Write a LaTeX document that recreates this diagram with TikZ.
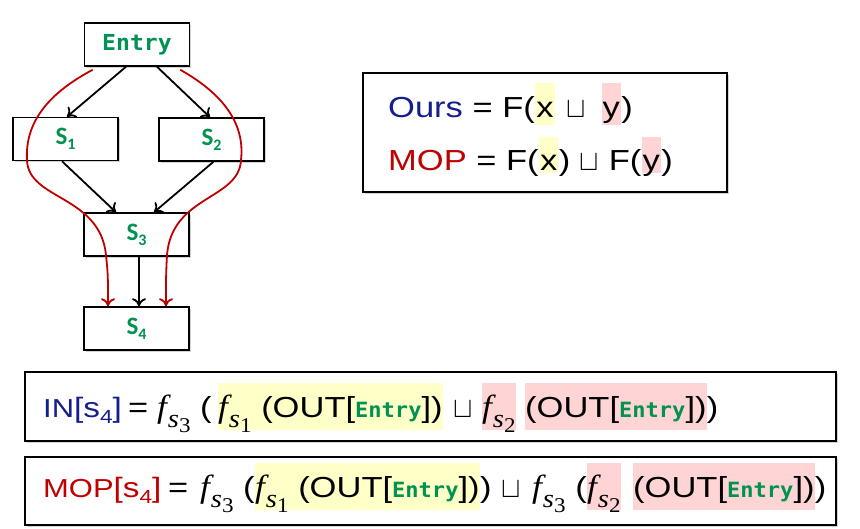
\RequirePackage{fix-cm}
\documentclass[tikz,border=0pt]{standalone}
\usepackage{amssymb}
\usepackage{fontspec}
\setmainfont{Liberation Sans}[FakeStretch=1.19]
\newfontfamily\monofont{DejaVu Sans Mono}[FakeStretch=1.05]
\newfontfamily\calfont{Carlito}
\newfontfamily\cambria{Liberation Serif}[FakeStretch=1.1]
\usetikzlibrary{arrows.meta,shadows}

\definecolor{oursblue}{RGB}{20,30,140}
\definecolor{mopred}{RGB}{192,0,0}
\definecolor{entrygreen}{RGB}{0,146,80}
\definecolor{hlyellow}{RGB}{255,255,200}
\definecolor{hlpink}{RGB}{255,212,212}

\newcommand{\ent}[1][21]{{\monofont\bfseries\fontsize{#1}{#1}\selectfont\color{entrygreen}Entry}}
\newcommand{\sname}[1]{{\calfont\bfseries\fontsize{25}{25}\selectfont\color{entrygreen}S\raisebox{-5pt}{\fontsize{16}{16}\selectfont #1}}}
\newcommand{\sfour}{{\fontsize{28}{34}\selectfont[s\raisebox{-6pt}{\fontsize{19}{19}\selectfont 4}]}}
\newcommand{\fsub}[1]{{\cambria\fontsize{32}{32}\selectfont\itshape f\kern1pt\raisebox{-10pt}{\fontsize{26}{26}\selectfont s\raisebox{-5pt}{\upshape\fontsize{21}{21}\selectfont #1}}}}

\begin{document}
\begin{tikzpicture}[x=1pt,y=-1pt,>={To[length=8pt,width=14pt]}]
\tikzset{
  shd/.style={fill=white,drop shadow={shadow xshift=1.5pt,shadow yshift=-1.5pt,opacity=0.35}},
  blk/.style={draw,shd,line width=1.5pt,minimum width=105pt,minimum height=43pt,inner sep=0pt},
  frame/.style={draw,shd,line width=2pt,inner sep=0pt},
  txt/.style={inner sep=0pt,anchor=base west,font=\fontsize{29}{34}\selectfont},
  lhs/.style={txt,font=\fontsize{26}{34}\selectfont},
  hly/.style={txt,fill=hlyellow,text height=34pt,text depth=13pt},
  hlp/.style={txt,fill=hlpink,text height=34pt,text depth=13pt},
  flow/.style={->,line width=1.8pt},
  mopflow/.style={->,line width=1.8pt,mopred}
}
\useasboundingbox (0,0) rectangle (860,528);

% control flow graph
\node[blk] (entry) at (137,44.5) {\ent[22]};
\node[blk] (s1) at (65.5,139) {\sname{1}};
\node[blk] (s2) at (211.5,139.5) {\sname{2}};
\node[blk] (s3) at (136.5,234.5) {\sname{3}};
\node[blk] (s4) at (136.5,328.5) {\sname{4}};

\draw[flow] ([xshift=-11pt]entry.south) -- ([xshift=1.5pt]s1.north);
\draw[flow] ([xshift=20pt]entry.south) -- ([xshift=-1.5pt]s2.north);
\draw[flow] ([xshift=-3.5pt]s1.south) -- ([xshift=-20.5pt]s3.north);
\draw[flow] ([xshift=2pt]s2.south) -- ([xshift=17.5pt]s3.north);
\draw[flow] ([xshift=2.5pt]s3.south) -- ([xshift=2.5pt]s4.north);

% the two paths
\draw[mopflow] ([xshift=9pt,yshift=-3pt]entry.south west)
  .. controls (45,95) and (25,125) .. (27,160)
  .. controls (28,200) and (100,195) .. (106,255)
  .. controls (108,275) .. ([xshift=-28.5pt]s4.north);
\draw[mopflow] ([xshift=-10pt,yshift=-3pt]entry.south east)
  .. controls (225,95) and (245,125) .. (241,160)
  .. controls (239,200) and (172,195) .. (167,255)
  .. controls (166,275) .. ([xshift=29.5pt]s4.north);

% ours vs mop
\node[frame,minimum width=364pt,minimum height=119pt] (cmp) at (545,132.5) {};
\node[txt] (ours) at (388,117) {\textcolor{oursblue}{Ours} = F(};
\node[hly,text height=34pt,text depth=8pt,inner xsep=1pt] (x1) at (ours.base east) {x};
\node[txt] (j1) at ([xshift=12pt]x1.base east) {$\sqcup$};
\node[hlp,text height=34pt,text depth=8pt,inner xsep=1pt] (y1) at ([xshift=15pt]j1.base east) {y};
\node[txt] (r1) at (y1.base east) {)};

\node[txt] (mop) at (388,170) {\textcolor{mopred}{MOP} = F(};
\node[hly,text height=33pt,text depth=3pt,inner xsep=1pt] (x2) at (mop.base east) {x};
\node[txt] (j2) at (x2.base east) {) $\sqcup$ F(};
\node[hlp,text height=33pt,text depth=3pt,inner xsep=1pt] (y2) at (j2.base east) {y};
\node[txt] (r2) at (y2.base east) {)};

% IN[s4]
\node[frame,minimum width=811pt,minimum height=69pt] (inbox) at (430.5,406.5) {};
\node[lhs,text=oursblue] (in) at (43,417) {IN\sfour};
\node[txt] (ineq) at (128,417) {=};
\node[txt] (in1) at (157,417) {\fsub{3} (};
\node[hly] (in2) at (218,417) {\fsub{1} (OUT[\ent])};
\node[txt] (in3) at (453,417) {$\sqcup$};
\node[hlp] (in4) at (482,417) {\fsub{2}};
\node[hlp] (in5) at (525,417) {(OUT[\ent])};
\node[txt] (in6) at (in5.base east) {)};

% MOP[s4]
\node[frame,minimum width=811pt,minimum height=68pt] (mopbox) at (430.5,491) {};
\node[lhs,text=mopred] (mp) at (43,497) {MOP\sfour};
\node[txt] (mpeq) at (168,497) {=};
\node[txt] (mp1) at (200,497) {\fsub{3} (};
\node[hly] (mp2) at (255,497) {\fsub{1} (OUT[\ent])};
\node[txt] (mp3) at (mp2.base east) {) $\sqcup$};
\node[txt] (mp4) at (532,497) {\fsub{3} (};
\node[hlp] (mp5) at (587,497) {\fsub{2}};
\node[hlp] (mp6) at (633,497) {(OUT[\ent])};
\node[txt] (mp7) at (mp6.base east) {)};
\end{tikzpicture}
\end{document}
